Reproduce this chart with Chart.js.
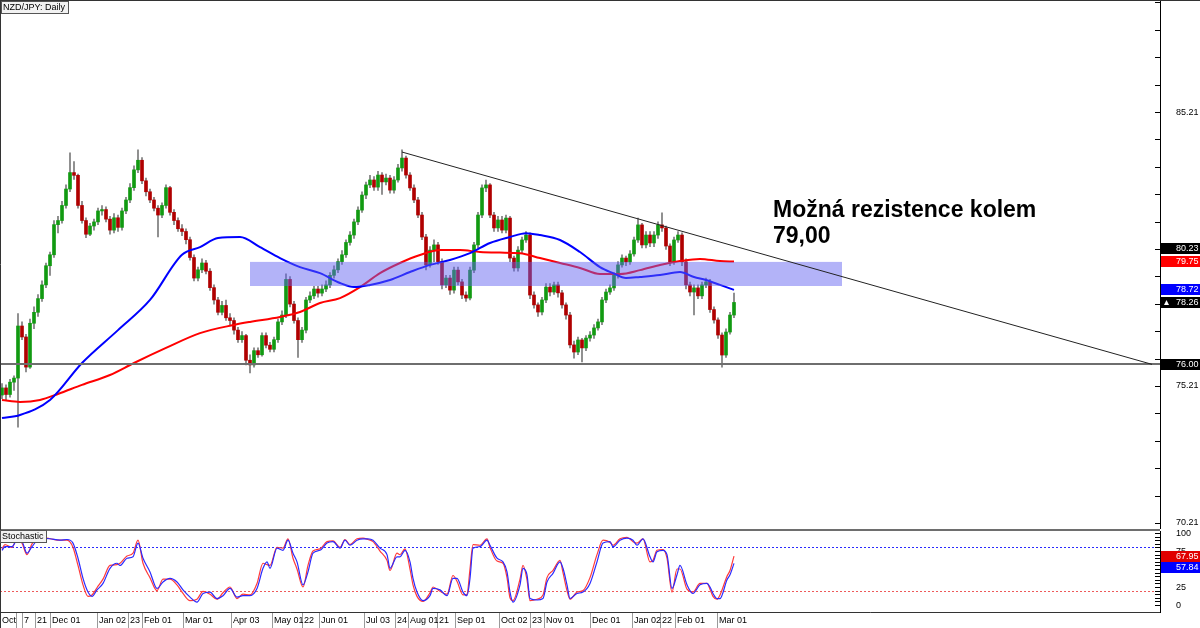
<!DOCTYPE html>
<html>
<head>
<meta charset="utf-8">
<script src="https://cdn.jsdelivr.net/npm/chart.js@4.4.0/dist/chart.umd.min.js"></script>
<style>
    html, body { margin: 0; padding: 0; background: #fff; }
    #wrap { position: relative; width: 1200px; height: 628px; overflow: hidden; }
    #main { position: absolute; left: 0; top: 0; }
    #stoch { position: absolute; left: 0; top: 529px; }
</style>
</head>
<body>
<div id="wrap">
    <canvas id="main" width="1200" height="529"></canvas>
    <canvas id="stoch" width="1200" height="99"></canvas>
</div>
<script>
// =======================
// DATA (one slot = one candle)
// =======================
const opens = [
    74.88, 75.14, 74.90, 75.35, 75.50, 77.40, 77.00, 75.90, 77.50, 77.90,
    78.40, 78.90, 79.60, 80.00, 81.10, 81.25, 81.80, 82.40, 83.00, 82.90,
    81.80, 81.25, 80.75, 81.05, 81.20, 81.60, 81.65, 81.30, 80.90, 81.35,
    81.00, 81.60, 82.00, 82.45, 83.10, 83.45, 82.70, 82.30, 82.00, 81.70,
    81.45, 81.80, 82.45, 81.55, 81.25, 80.95, 80.85, 80.55, 79.90, 79.15,
    79.45, 79.70, 79.40, 78.80, 78.35, 77.90, 78.15, 77.70, 77.60, 77.25,
    76.90, 77.05, 76.15, 75.98, 76.50, 76.35, 77.05, 76.70, 76.55, 76.90,
    77.55, 77.80, 79.10, 78.20, 77.60, 76.90, 77.25, 78.35, 78.50, 78.75,
    78.60, 78.75, 78.90, 79.25, 79.45, 79.75, 80.00, 80.45, 80.72, 81.20,
    81.63, 82.18, 82.55, 82.73, 82.47, 82.91, 82.66, 82.80, 82.36, 82.73,
    83.17, 83.53, 82.91, 82.44, 82.00, 81.45, 80.65, 79.63, 80.17, 80.36,
    79.75, 78.90, 79.15, 78.71, 79.44, 79.01, 78.53, 78.42, 79.44, 80.36,
    81.45, 82.44, 82.55, 81.45, 80.98, 81.27, 80.90, 81.34, 79.88, 79.52,
    80.17, 80.54, 80.72, 78.53, 78.17, 77.91, 78.35, 78.82, 78.64, 78.90,
    78.61, 78.17, 77.80, 76.71, 76.45, 76.89, 76.60, 76.96, 77.07, 77.33,
    77.55, 78.35, 78.64, 78.79, 79.26, 79.63, 79.88, 79.74, 80.03, 80.54,
    81.09, 80.36, 80.72, 80.43, 80.72, 81.09, 80.98, 80.32, 79.74, 80.54,
    80.72, 79.74, 78.90, 78.64, 78.79, 78.50, 78.90, 79.01, 78.00, 77.62,
    77.07, 76.34, 77.18, 77.80
];
const closes = [
    75.14, 74.90, 75.35, 75.50, 77.40, 77.00, 75.90, 77.50, 77.90, 78.40,
    78.90, 79.60, 80.00, 81.10, 81.25, 81.80, 82.40, 83.00, 82.90, 81.80,
    81.25, 80.75, 81.05, 81.20, 81.60, 81.65, 81.30, 80.90, 81.35, 81.00,
    81.60, 82.00, 82.45, 83.10, 83.45, 82.70, 82.30, 82.00, 81.70, 81.45,
    81.80, 82.45, 81.55, 81.25, 80.95, 80.85, 80.55, 79.90, 79.15, 79.45,
    79.70, 79.40, 78.80, 78.35, 77.90, 78.15, 77.70, 77.60, 77.25, 76.90,
    77.05, 76.15, 75.98, 76.50, 76.35, 77.05, 76.70, 76.55, 76.90, 77.55,
    77.80, 79.10, 78.20, 77.60, 76.90, 77.25, 78.35, 78.50, 78.75, 78.60,
    78.75, 78.90, 79.25, 79.45, 79.75, 80.00, 80.45, 80.72, 81.20, 81.63,
    82.18, 82.55, 82.73, 82.47, 82.91, 82.66, 82.80, 82.36, 82.73, 83.17,
    83.53, 82.91, 82.44, 82.00, 81.45, 80.65, 79.63, 80.17, 80.36, 79.75,
    78.90, 79.15, 78.71, 79.44, 79.01, 78.53, 78.42, 79.44, 80.36, 81.45,
    82.44, 82.55, 81.45, 80.98, 81.27, 80.90, 81.34, 79.88, 79.52, 80.17,
    80.54, 80.72, 78.53, 78.17, 77.91, 78.35, 78.82, 78.64, 78.90, 78.61,
    78.17, 77.80, 76.71, 76.45, 76.89, 76.60, 76.96, 77.07, 77.33, 77.55,
    78.35, 78.64, 78.79, 79.26, 79.63, 79.88, 79.74, 80.03, 80.54, 81.09,
    80.36, 80.72, 80.43, 80.72, 81.09, 80.98, 80.32, 79.74, 80.54, 80.72,
    79.74, 78.90, 78.64, 78.79, 78.50, 78.90, 79.01, 78.00, 77.62, 77.07,
    76.34, 77.18, 77.80, 78.26
];
const highs = [
    75.30, 75.25, 75.45, 75.58, 77.85, 77.55, 77.10, 77.65, 78.10, 78.55,
    79.05, 79.70, 80.10, 81.25, 81.40, 81.95, 82.55, 83.72, 83.40, 82.95,
    81.95, 81.35, 81.15, 81.30, 81.70, 81.80, 81.75, 81.40, 81.50, 81.45,
    81.70, 82.10, 82.60, 83.25, 83.83, 83.55, 82.80, 82.40, 82.10, 81.80,
    81.90, 82.55, 82.50, 81.65, 81.35, 81.10, 80.95, 80.65, 80.00, 79.55,
    79.85, 79.80, 79.50, 78.90, 78.45, 78.30, 78.35, 77.85, 77.70, 77.35,
    77.20, 77.10, 76.35, 76.60, 76.60, 77.15, 77.15, 76.80, 77.00, 77.65,
    77.95, 79.30, 79.20, 78.30, 77.70, 77.35, 78.45, 78.65, 78.85, 78.85,
    78.90, 79.05, 79.35, 79.60, 79.85, 80.15, 80.55, 80.85, 81.30, 81.75,
    82.30, 82.65, 82.90, 82.85, 83.05, 83.00, 82.95, 82.90, 82.85, 83.30,
    83.83, 83.60, 83.00, 82.55, 82.10, 81.55, 80.75, 80.30, 80.55, 80.45,
    79.85, 79.25, 79.25, 79.55, 79.55, 79.10, 78.65, 79.55, 80.45, 81.55,
    82.55, 82.73, 82.60, 81.55, 81.40, 81.40, 81.45, 81.40, 79.95, 80.30,
    80.65, 80.85, 80.80, 78.65, 78.25, 78.45, 78.95, 78.95, 79.00, 79.00,
    78.70, 78.25, 77.90, 76.85, 77.00, 76.95, 77.05, 77.20, 77.45, 77.65,
    78.45, 78.75, 78.90, 79.35, 79.75, 80.00, 79.95, 80.15, 80.65, 81.34,
    81.15, 80.85, 80.85, 80.85, 81.20, 81.53, 81.05, 80.40, 80.65, 80.85,
    80.80, 79.85, 79.00, 78.90, 78.90, 79.00, 79.15, 79.10, 78.10, 77.70,
    77.15, 77.30, 77.90, 78.60
];
const lows = [
    74.75, 74.70, 74.80, 75.05, 73.71, 76.90, 75.72, 75.85, 77.30, 77.75,
    78.30, 78.80, 79.25, 79.90, 80.80, 81.15, 81.70, 82.30, 82.75, 81.70,
    81.15, 80.62, 80.70, 80.90, 81.10, 81.45, 81.20, 80.75, 80.80, 80.85,
    80.90, 81.50, 81.90, 82.35, 83.00, 82.60, 82.15, 81.90, 81.60, 80.65,
    81.35, 81.70, 81.45, 81.10, 80.85, 80.70, 80.40, 79.80, 79.05, 79.05,
    79.35, 79.30, 78.70, 78.20, 77.80, 77.80, 77.60, 77.45, 77.10, 76.80,
    76.80, 75.98, 75.69, 75.90, 76.25, 76.30, 76.60, 76.45, 76.45, 76.80,
    77.45, 77.70, 78.10, 77.50, 76.25, 76.80, 77.15, 78.25, 78.40, 78.45,
    78.50, 78.65, 78.80, 79.15, 79.35, 79.65, 79.90, 80.35, 80.60, 81.10,
    81.55, 82.05, 82.45, 82.35, 82.35, 82.20, 82.55, 82.25, 82.25, 82.65,
    83.05, 82.80, 82.35, 81.90, 81.35, 80.55, 79.45, 79.55, 79.75, 79.65,
    78.75, 78.80, 78.55, 78.60, 78.90, 78.40, 78.30, 78.35, 79.35, 80.25,
    81.35, 82.30, 81.35, 80.85, 80.85, 80.80, 80.80, 79.75, 79.40, 79.40,
    80.05, 80.45, 78.40, 78.05, 77.75, 77.80, 78.25, 78.50, 78.55, 78.45,
    78.05, 77.65, 76.60, 76.23, 76.35, 76.09, 76.50, 76.85, 76.95, 77.25,
    77.45, 78.25, 78.55, 78.70, 79.15, 79.55, 79.60, 79.65, 79.95, 80.45,
    80.25, 80.25, 80.30, 80.30, 80.60, 80.85, 80.20, 79.60, 79.65, 80.45,
    79.60, 78.75, 78.50, 77.80, 78.40, 78.40, 78.80, 77.90, 77.50, 76.95,
    75.90, 76.25, 77.10, 77.70
];

// moving averages, read at these slots
const maBlueAt = [0, 4.5, 12, 20, 29, 37, 45, 49.5, 54, 59.5, 64.5, 69.5, 74.5, 79.5, 84.5, 88, 92, 97, 102, 107,
    112, 117, 122, 127, 131, 134.5, 139.5, 144.5, 149.5, 152.75, 156, 159.5, 164.5, 169.5, 173, 176, 179.5, 183];
const maBlue = [74.04, 74.15, 74.70, 76.05, 77.25, 78.35, 80.00, 80.28, 80.61, 80.65, 80.28, 79.88, 79.55, 79.33, 78.97, 78.82, 78.90, 79.08, 79.37, 79.63,
    79.81, 80.06, 80.43, 80.65, 80.79, 80.72, 80.54, 80.10, 79.55, 79.33, 79.15, 79.19, 79.26, 79.37, 79.19, 79.08, 78.90, 78.72];
const maRedAt = [0, 4.5, 9.5, 14, 20, 27, 33, 41, 49.5, 58, 62, 69.5, 74.5, 79.5, 84.5, 89.5, 94.5, 99.5, 104.5, 109.5,
    114.5, 119.5, 124.5, 129.5, 134.5, 139.5, 144.5, 149.5, 154.5, 159.5, 164.5, 169.5, 174.5, 179.5, 183];
const maRed = [74.70, 74.63, 74.70, 74.92, 75.25, 75.61, 76.05, 76.60, 77.14, 77.44, 77.55, 77.73, 77.91, 78.24, 78.42, 78.82, 79.33, 79.70, 79.99, 80.17,
    80.17, 80.10, 80.08, 80.06, 79.88, 79.70, 79.52, 79.30, 79.30, 79.44, 79.63, 79.77, 79.85, 79.77, 79.75];

// stochastic, read at these slots
const stochAt = [
    0, 0.75, 2.5, 3.75, 5, 6.25, 7.5, 9.5, 12, 14.5,
    16.25, 17.75, 19, 20.25, 21.5, 22.5, 23.75, 25.25, 27, 28.75,
    29.5, 31.25, 32.75, 34, 35.25, 37, 38.75, 40.25, 42, 43.75,
    45.25, 47, 48.75, 50.25, 52, 53.75, 55.25, 57, 58.75, 60.25,
    62, 63.75, 65.25, 66.25, 67, 68.75, 70.25, 71.5, 72.75, 73.75,
    75.25, 76.5, 77.75, 79.5, 81.25, 82.75, 84.5, 85.75, 87, 88.75,
    90.25, 91.5, 92.75, 94.5, 96.25, 97, 98.75, 99.5, 100.75, 102,
    102.75, 103.75, 105.25, 107, 107.75, 109.5, 111.25, 112.75, 113.75, 115.25,
    116.25, 117, 117.75, 119.5, 121.25, 122, 123.75, 125.25, 126.25, 127,
    127.75, 129.5, 130.25, 131.25, 132, 133.75, 135.25, 136.25, 137.75, 139.5,
    140.25, 141.25, 142, 143.75, 145.25, 147, 148.75, 150.25, 152, 152.75,
    154.5, 156.25, 157.75, 158.75, 160.25, 162, 162.75, 163.75, 165.25, 166.25,
    167.5, 168.75, 169.5, 171.25, 172.75, 174.5, 176.25, 177, 177.75, 178.75,
    179.5, 181.25, 182, 183
];
const stochK = [
    78, 84, 80, 92, 86, 70, 85, 94, 92, 90,
    90, 80, 55, 28, 12, 14, 24, 36, 55, 56,
    58, 68, 72, 90, 58, 38, 20, 36, 36, 28,
    16, 6, 8, 19, 15, 8, 17, 25, 9, 15,
    14, 30, 58, 56, 55, 80, 79, 92, 65, 50,
    25, 55, 75, 78, 88, 89, 80, 91, 84, 92,
    93, 91, 88, 75, 62, 48, 72, 70, 78, 50,
    28, 12, 5, 17, 25, 19, 15, 41, 33, 14,
    15, 50, 84, 83, 92, 80, 61, 58, 38, 10,
    6, 36, 55, 35, 6, 8, 14, 38, 48, 62,
    45, 20, 8, 18, 20, 38, 70, 90, 87, 83,
    92, 94, 88, 86, 92, 60, 62, 76, 77, 65,
    18, 50, 50, 22, 18, 30, 30, 22, 12, 8,
    14, 40, 48, 67.95
];
const stochD = [
    76, 81, 81, 90, 88, 72, 81, 93, 92, 90,
    91, 86, 65, 37, 18, 12, 21, 30, 51, 58,
    55, 65, 67, 86, 65, 46, 23, 32, 37, 32,
    21, 11, 4, 16, 18, 9, 13, 23, 11, 13,
    13, 23, 51, 60, 51, 79, 76, 90, 72, 60,
    28, 46, 72, 76, 86, 88, 79, 90, 83, 90,
    92, 92, 90, 79, 70, 51, 67, 67, 76, 60,
    37, 18, 6, 13, 23, 21, 13, 37, 37, 18,
    13, 37, 79, 81, 90, 83, 65, 60, 46, 18,
    4, 28, 51, 42, 9, 7, 9, 32, 44, 60,
    51, 28, 9, 16, 18, 30, 60, 86, 88, 81,
    90, 93, 90, 83, 92, 67, 60, 74, 76, 70,
    23, 42, 55, 28, 16, 28, 30, 25, 16, 9,
    9, 35, 42, 57.84
];

// x axis date ticks
const dateLabels = ['Oct', '', '7', '21', 'Dec 01', 'Jan 02', '23', 'Feb 01', 'Mar 01', 'Apr 03', 'May 01', '22', 'Jun 01',
    'Jul 03', '24', 'Aug 01', '21', 'Sep 01', 'Oct 02', '23', 'Nov 01', 'Dec 01', 'Jan 02', '22', 'Feb 01', 'Mar 01'];
const dateAt = [-0.5, 3.5, 5, 8.25, 12, 23.75, 31.5, 35, 45.25, 57.25, 67.5, 75, 79.25,
    90.5, 98.25, 101.5, 108.75, 113.25, 124.25, 132, 135.5, 147, 157.5, 164.5, 168.25, 178.75];

const priceTickLabels = ['70.21', '75.21', '80.21', '85.21'];
const stochTickLabels = ['0', '25', '50', '75', '100'];

// markers on the price axis
const priceMarks = [80.23, 79.75, 78.72, 78.26, 76.00];
const priceMarkColors = ['#000000', '#ff0000', '#0000ff', '#000000', '#000000'];
const stochMarks = [67.95, 57.84];
const stochMarkColors = ['#e00000', '#0000ff'];

// drawn objects
const zoneFrom = 62, zoneTo = 210, zoneTop = 79.74, zoneBottom = 78.86;
const supportLevel = 76.00;
const trendFrom = [100, 83.75], trendTo = [287.5, 76.00];
const noteLines = ['Možná rezistence kolem', '79,00'];
const noteAt = [192.75, 81.38];

const slotMin = -0.5, slotMax = 289.5;
const priceMin = 69.99, priceMax = 89.30;

const FONT = '"Liberation Sans", Arial, sans-serif';
Chart.defaults.font.family = FONT;
Chart.defaults.font.size = 9;
Chart.defaults.color = '#000';

// =======================
// HELPERS
// =======================
function axisFit(width) {
    return scale => {
        scale.width = width;
        scale.paddingTop = 0;
        scale.paddingBottom = 0;
    };
}

function drawAxisMarks(ctx, scale, area) {
    ctx.save();
    ctx.strokeStyle = '#000';
    ctx.lineWidth = 1;
    scale.ticks.forEach(t => {
        const py = Math.round(scale.getPixelForValue(t.value)) + 0.5;
        ctx.beginPath();
        ctx.moveTo(area.right - 5, py);
        ctx.lineTo(area.right, py);
        ctx.stroke();
    });
    ctx.restore();
}

function drawValueBox(ctx, x0, yc, text, color, arrow) {
    const top = Math.round(yc - 5.5);
    ctx.fillStyle = color;
    ctx.fillRect(x0, top, 1200 - x0, 11);
    ctx.fillStyle = '#fff';
    ctx.textAlign = 'left';
    ctx.textBaseline = 'middle';
    ctx.fillText(text, x0 + 15, top + 6);
    if (arrow) {
        ctx.beginPath();
        ctx.moveTo(x0 + 3, top + 8);
        ctx.lineTo(x0 + 5.5, top + 3);
        ctx.lineTo(x0 + 8, top + 8);
        ctx.closePath();
        ctx.fill();
    }
    return top + 11;
}

function drawLabelBox(ctx, x0, y0, text) {
    ctx.font = '9px ' + FONT;
    const w = Math.ceil(ctx.measureText(text).width) + 4;
    ctx.fillStyle = '#f2f2f2';
    ctx.fillRect(x0, y0, w, 12);
    ctx.strokeStyle = '#555';
    ctx.lineWidth = 1;
    ctx.strokeRect(x0 + 0.5, y0 + 0.5, w, 12);
    ctx.fillStyle = '#000';
    ctx.textAlign = 'left';
    ctx.textBaseline = 'middle';
    ctx.fillText(text, x0 + 2, y0 + 7);
}

// =======================
// MAIN PRICE CHART
// =======================
const wickData = closes.map((c, i) => ({ x: i, y: [lows[i], highs[i]] }));
const bodyData = closes.map((c, i) => ({ x: i, y: [opens[i], c] }));
const bodyColors = closes.map((c, i) => c >= opens[i] ? '#119a11' : '#b00000');

const mainDecor = {
    id: 'mainDecor',
    afterDatasetsDraw(chart) {
        const { ctx, chartArea: a, scales: { x, y } } = chart;
        ctx.save();
        ctx.beginPath();
        ctx.rect(a.left, a.top, a.right - a.left, a.bottom - a.top);
        ctx.clip();

        // resistance zone
        const zx1 = x.getPixelForValue(zoneFrom), zx2 = x.getPixelForValue(zoneTo);
        const zy1 = y.getPixelForValue(zoneTop), zy2 = y.getPixelForValue(zoneBottom);
        ctx.fillStyle = 'rgba(96,96,240,0.48)';
        ctx.fillRect(zx1, zy1, zx2 - zx1, zy2 - zy1);

        // support line
        const sy = Math.round(y.getPixelForValue(supportLevel));
        ctx.strokeStyle = '#6e6e6e';
        ctx.lineWidth = 2;
        ctx.beginPath();
        ctx.moveTo(a.left, sy);
        ctx.lineTo(a.right, sy);
        ctx.stroke();

        // falling trendline
        ctx.strokeStyle = '#222';
        ctx.lineWidth = 1;
        ctx.beginPath();
        ctx.moveTo(x.getPixelForValue(trendFrom[0]), y.getPixelForValue(trendFrom[1]));
        ctx.lineTo(x.getPixelForValue(trendTo[0]), y.getPixelForValue(trendTo[1]));
        ctx.stroke();
        ctx.restore();

        // note
        ctx.save();
        ctx.fillStyle = '#000';
        ctx.font = 'bold 23px ' + FONT;
        ctx.textAlign = 'left';
        ctx.textBaseline = 'alphabetic';
        noteLines.forEach((t, i) => {
            ctx.fillText(t, x.getPixelForValue(noteAt[0]), y.getPixelForValue(noteAt[1]) + i * 26);
        });
        ctx.restore();
    },
    afterDraw(chart) {
        const { ctx, chartArea: a, scales: { y } } = chart;
        ctx.save();
        drawAxisMarks(ctx, y, a);

        ctx.font = '9px ' + FONT;
        priceMarks.forEach((v, i) => {
            drawValueBox(ctx, a.right + 1, y.getPixelForValue(v), v.toFixed(2), priceMarkColors[i], i === 3);
        });

        // frame
        ctx.strokeStyle = '#333';
        ctx.lineWidth = 1;
        ctx.beginPath();
        ctx.moveTo(0, 0.5);
        ctx.lineTo(1200, 0.5);
        ctx.moveTo(0.5, 0);
        ctx.lineTo(0.5, a.bottom);
        ctx.stroke();

        drawLabelBox(ctx, 1, 1, 'NZD/JPY: Daily');
        ctx.restore();
    }
};

new Chart(document.getElementById('main'), {
    type: 'bar',
    data: {
        datasets: [
            {
                type: 'line',
                data: maRedAt.map((s, i) => ({ x: s, y: maRed[i] })),
                borderColor: '#ff0000',
                borderWidth: 2,
                pointRadius: 0,
                cubicInterpolationMode: 'monotone',
                order: 1
            },
            {
                type: 'line',
                data: maBlueAt.map((s, i) => ({ x: s, y: maBlue[i] })),
                borderColor: '#0000ff',
                borderWidth: 2,
                pointRadius: 0,
                cubicInterpolationMode: 'monotone',
                order: 0
            },
            {
                type: 'bar',
                data: bodyData,
                backgroundColor: bodyColors,
                barThickness: 3,
                minBarLength: 1,
                grouped: false,
                order: 2
            },
            {
                type: 'bar',
                data: wickData,
                backgroundColor: '#7a7a7a',
                barThickness: 1,
                grouped: false,
                order: 3
            }
        ]
    },
    options: {
        responsive: false,
        animation: false,
        events: [],
        layout: { padding: 0, autoPadding: false },
        plugins: { legend: { display: false }, tooltip: { enabled: false } },
        scales: {
            x: { type: 'linear', min: slotMin, max: slotMax, offset: false, display: false },
            y: {
                type: 'linear',
                position: 'right',
                min: priceMin,
                max: priceMax,
                afterBuildTicks: scale => {
                    const t = [];
                    for (let v = 70.21; v < priceMax; v += 1) t.push({ value: +v.toFixed(2) });
                    scale.ticks = t;
                },
                afterFit: axisFit(40),
                ticks: {
                    autoSkip: false,
                    padding: 16,
                    callback: v => {
                        const s = Number(v).toFixed(2);
                        return priceTickLabels.includes(s) ? s : '';
                    }
                },
                grid: { display: false, drawTicks: false },
                border: { display: true, color: '#000', width: 1 }
            }
        }
    },
    plugins: [mainDecor]
});

// =======================
// STOCHASTIC PANEL
// =======================
const stochDecor = {
    id: 'stochDecor',
    beforeDatasetsDraw(chart) {
        const { ctx, chartArea: a, scales: { y } } = chart;
        ctx.save();
        ctx.lineWidth = 1;
        ctx.setLineDash([2, 2]);
        [[80, '#2a2aff'], [20, '#ee5a5a']].forEach(([lvl, col]) => {
            const py = Math.round(y.getPixelForValue(lvl)) + 0.5;
            ctx.strokeStyle = col;
            ctx.beginPath();
            ctx.moveTo(a.left, py);
            ctx.lineTo(a.right, py);
            ctx.stroke();
        });
        ctx.restore();
    },
    afterDraw(chart) {
        const { ctx, chartArea: a, scales: { y } } = chart;
        ctx.save();
        drawAxisMarks(ctx, y, a);

        ctx.font = '9px ' + FONT;
        let lastBottom = -1;
        stochMarks.forEach((v, i) => {
            let yc = y.getPixelForValue(v);
            if (yc - 5.5 < lastBottom) yc = lastBottom + 5.5;
            lastBottom = drawValueBox(ctx, a.right + 1, yc, v.toFixed(2), stochMarkColors[i], false);
        });

        // panel separator and left frame
        ctx.fillStyle = '#6e6e6e';
        ctx.fillRect(0, 0, a.right, 2);
        ctx.strokeStyle = '#333';
        ctx.lineWidth = 1;
        ctx.beginPath();
        ctx.moveTo(0.5, 0);
        ctx.lineTo(0.5, 99);
        ctx.stroke();

        drawLabelBox(ctx, 0, 1, 'Stochastic');
        ctx.restore();
    }
};

new Chart(document.getElementById('stoch'), {
    type: 'line',
    data: {
        datasets: [
            {
                data: stochAt.map((s, i) => ({ x: s, y: stochK[i] })),
                borderColor: '#ff3a3a',
                borderWidth: 1.2,
                pointRadius: 0,
                cubicInterpolationMode: 'monotone',
                order: 2
            },
            {
                data: stochAt.map((s, i) => ({ x: s, y: stochD[i] })),
                borderColor: '#2a2aff',
                borderWidth: 1.2,
                pointRadius: 0,
                cubicInterpolationMode: 'monotone',
                order: 1
            }
        ]
    },
    options: {
        responsive: false,
        animation: false,
        events: [],
        layout: { padding: { top: 2 }, autoPadding: false },
        plugins: { legend: { display: false }, tooltip: { enabled: false } },
        scales: {
            x: {
                type: 'linear',
                min: slotMin,
                max: slotMax,
                offset: false,
                afterBuildTicks: scale => {
                    scale.ticks = dateAt.map(v => ({ value: v }));
                },
                afterFit: scale => {
                    scale.height = 16;
                    scale.paddingLeft = 0;
                    scale.paddingRight = 0;
                },
                ticks: {
                    autoSkip: false,
                    maxRotation: 0,
                    minRotation: 0,
                    align: 'start',
                    labelOffset: 2,
                    padding: -13,
                    callback: (v, i) => dateLabels[i]
                },
                grid: { drawOnChartArea: false, drawTicks: true, tickLength: 16, color: '#9a9a9a' },
                border: { display: true, color: '#333', width: 1 }
            },
            y: {
                type: 'linear',
                position: 'right',
                min: -9.7,
                max: 102.8,
                afterBuildTicks: scale => {
                    const t = [];
                    for (let v = 0; v <= 100; v += 5) t.push({ value: v });
                    scale.ticks = t;
                },
                afterFit: axisFit(40),
                ticks: {
                    autoSkip: false,
                    padding: 16,
                    callback: v => stochTickLabels.includes(String(v)) ? String(v) : ''
                },
                grid: { display: false, drawTicks: false },
                border: { display: true, color: '#000', width: 1 }
            }
        }
    },
    plugins: [stochDecor]
});
</script>
</body>
</html>
